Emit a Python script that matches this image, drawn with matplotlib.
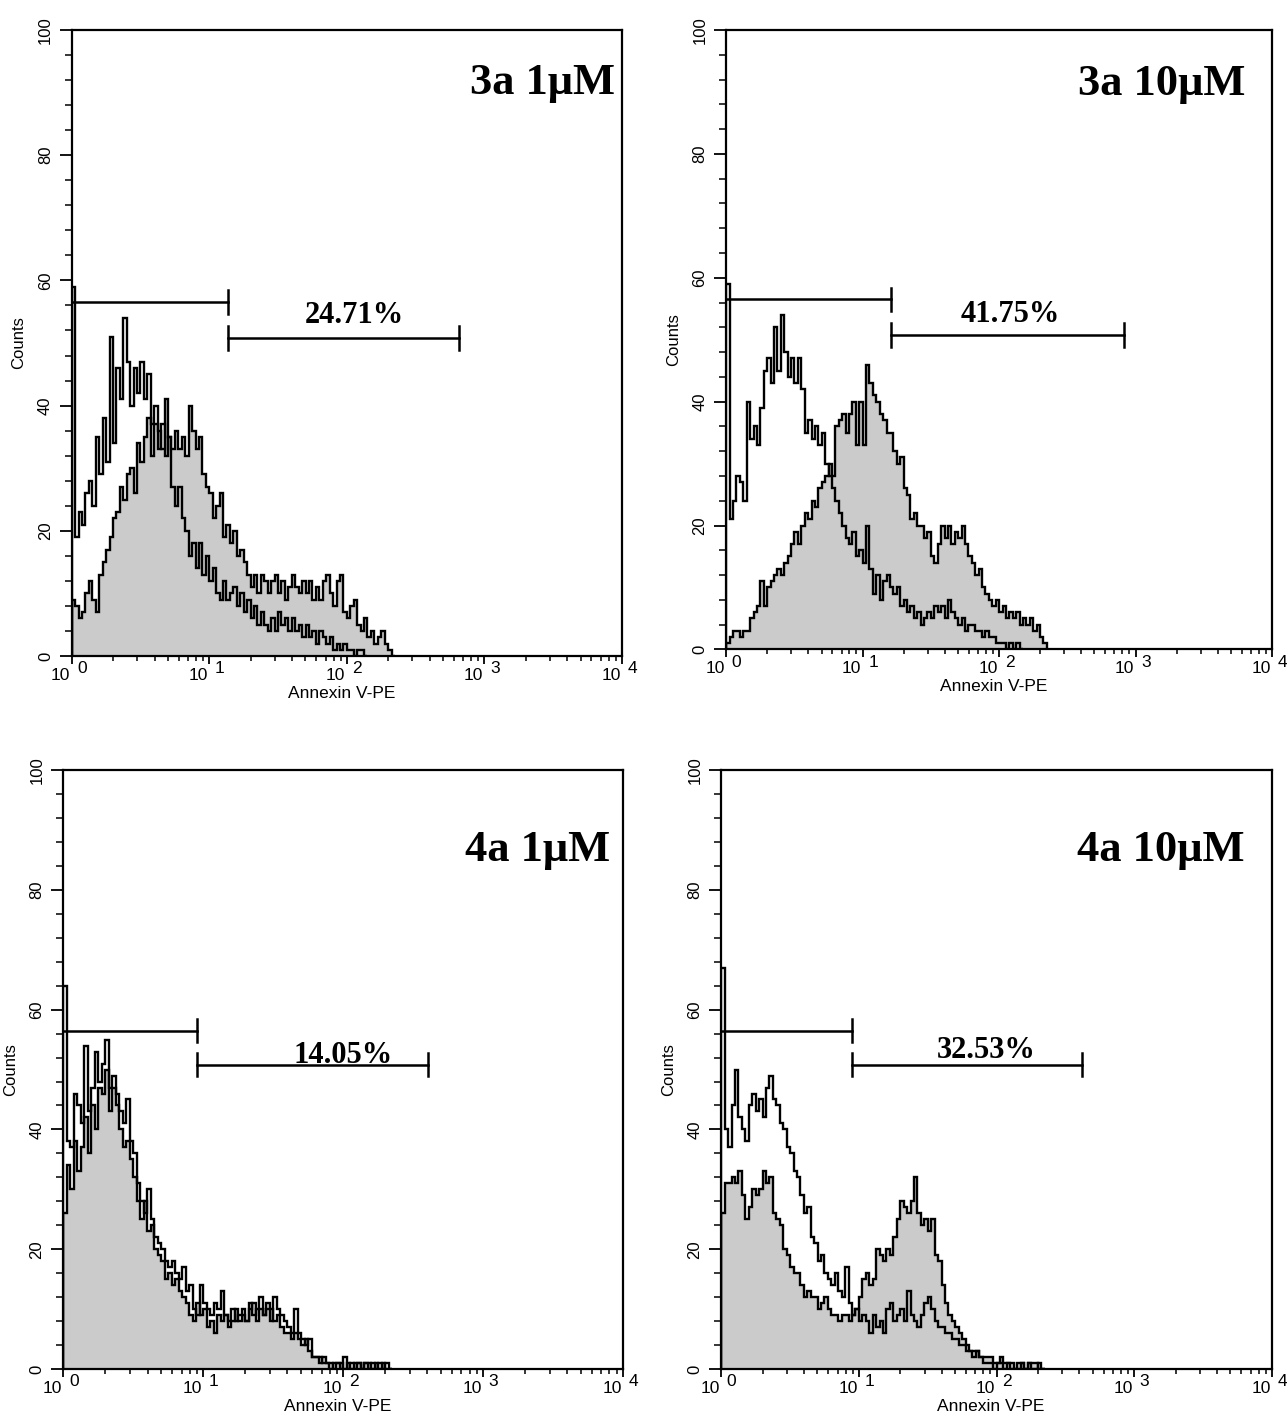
import numpy as np
import matplotlib.pyplot as plt
from matplotlib.ticker import MultipleLocator, LogLocator, NullFormatter

plt.rcParams['font.family'] = ['Liberation Sans', 'DejaVu Sans']

# channels per decade of the log amplifier (histogram bins)
CH_PER_DECADE = 40

panel_titles = ['3a 1\u03bcM', '3a 10\u03bcM', '4a 1\u03bcM', '4a 10\u03bcM']
percent_labels = ['24.71%', '41.75%', '14.05%', '32.53%']

# gate markers: (split, right end) in Annexin V-PE units
gate_split = [13.7, 16.0, 8.95, 8.9]
gate_end = [648, 824, 405, 415]
gate_low_y = 56.5
gate_high_y = 50.8

# counts per channel, control (open outline)
control_3a_1 = [59, 19, 23, 21, 26, 28, 24, 35, 29, 38, 31, 51, 34, 46, 41, 54, 47, 40, 46, 42,
                47, 41, 45, 37, 40, 33, 37, 32, 35, 27, 24, 27, 22, 20, 16, 18, 14, 18, 13, 16,
                12, 14, 10, 9, 12, 9, 10, 11, 8, 10, 7, 9, 6, 8, 5, 7, 5, 4, 6, 4,
                7, 5, 6, 4, 6, 4, 5, 3, 5, 3, 4, 2, 4, 3, 2, 3, 1, 2, 1, 2,
                1, 1, 0, 1, 1, 0]
control_3a_10 = [59, 21, 24, 28, 27, 24, 40, 34, 36, 33, 39, 45, 47, 43, 52, 45, 54, 48, 44, 47,
                 43, 47, 42, 35, 37, 34, 36, 33, 35, 30, 28, 26, 24, 22, 20, 18, 17, 19, 15, 16,
                 14, 20, 13, 9, 12, 8, 11, 12, 10, 9, 10, 7, 8, 6, 7, 5, 6, 4, 5, 6,
                 5, 7, 6, 7, 5, 8, 6, 5, 4, 5, 3, 4, 4, 3, 3, 2, 3, 2, 2, 1,
                 1, 1, 0, 1, 0, 1, 0]
control_4a_1 = [64, 38, 37, 46, 44, 41, 54, 43, 47, 53, 48, 51, 55, 47, 49, 46, 43, 41, 45, 38,
                36, 31, 28, 26, 30, 25, 22, 21, 20, 18, 17, 18, 16, 15, 17, 13, 14, 10, 9, 14,
                11, 10, 9, 11, 10, 13, 9, 8, 10, 8, 9, 10, 8, 11, 9, 10, 12, 9, 10, 8,
                12, 10, 9, 8, 7, 6, 10, 6, 5, 4, 5, 2, 2, 2, 1, 1, 0, 1, 1, 0,
                2, 0, 1, 0, 1, 0, 1, 0, 1, 0, 1, 0, 1, 0]
control_4a_10 = [67, 40, 37, 44, 50, 42, 40, 38, 44, 46, 43, 45, 42, 47, 49, 45, 44, 41, 40, 37,
                 36, 33, 32, 29, 26, 27, 22, 21, 18, 19, 16, 15, 14, 16, 13, 12, 17, 11, 9, 10,
                 8, 9, 8, 6, 9, 7, 8, 6, 10, 11, 8, 9, 10, 8, 13, 9, 8, 7, 9, 11,
                 12, 10, 8, 7, 7, 6, 6, 5, 5, 4, 4, 3, 3, 2, 3, 2, 1, 1, 1, 0,
                 1, 1, 0, 1, 0, 0, 0, 1, 0, 1, 0, 0, 1, 0]

# counts per channel, treated (grey filled)
treated_3a_1 = [9, 8, 6, 7, 10, 12, 9, 7, 13, 15, 17, 19, 22, 23, 27, 25, 29, 30, 26, 34,
                31, 35, 38, 32, 37, 36, 33, 41, 35, 33, 36, 33, 35, 32, 40, 36, 33, 35, 29, 27,
                26, 22, 24, 26, 19, 21, 18, 20, 16, 17, 15, 13, 11, 13, 10, 13, 12, 10, 12, 13,
                10, 12, 9, 11, 13, 11, 10, 12, 10, 12, 9, 11, 9, 12, 13, 10, 8, 12, 13, 7,
                6, 8, 9, 5, 4, 6, 3, 4, 2, 3, 4, 2, 1, 0]
treated_3a_10 = [1, 2, 3, 3, 2, 3, 3, 5, 6, 7, 11, 7, 10, 11, 12, 13, 12, 14, 15, 17,
                 19, 17, 20, 22, 21, 24, 23, 26, 27, 28, 30, 28, 36, 37, 38, 35, 38, 40, 33, 40,
                 33, 46, 43, 41, 40, 38, 37, 35, 35, 32, 30, 31, 26, 25, 21, 22, 20, 20, 18, 19,
                 15, 14, 17, 20, 18, 20, 17, 19, 18, 20, 17, 15, 14, 12, 13, 10, 9, 8, 7, 8,
                 6, 7, 5, 6, 5, 6, 4, 5, 4, 5, 3, 4, 2, 1]
treated_4a_1 = [26, 34, 30, 38, 33, 37, 42, 36, 44, 40, 47, 46, 50, 43, 47, 44, 40, 37, 38, 35,
                32, 28, 25, 28, 23, 24, 20, 19, 18, 15, 16, 14, 15, 13, 12, 11, 9, 8, 11, 9,
                10, 7, 8, 6, 9, 8, 9, 7, 8, 10, 8, 9, 8, 10, 11, 8, 10, 9, 11, 10,
                8, 9, 7, 6, 6, 5, 6, 5, 4, 5, 3, 2, 2, 1, 2, 1, 1, 0, 1, 1,
                0, 1, 0, 1, 1, 0, 1, 1, 0, 1, 0, 1, 0, 0]
treated_4a_10 = [26, 31, 31, 32, 31, 33, 29, 25, 27, 30, 29, 30, 33, 31, 32, 26, 25, 24, 20, 19,
                 17, 16, 16, 14, 12, 13, 12, 12, 10, 11, 12, 10, 9, 9, 8, 9, 9, 8, 9, 10,
                 12, 15, 16, 14, 15, 20, 19, 18, 20, 19, 22, 25, 28, 27, 26, 28, 32, 26, 24, 25,
                 23, 25, 19, 18, 14, 11, 9, 8, 7, 6, 5, 4, 3, 3, 3, 2, 2, 2, 2, 1,
                 1, 2, 1, 1, 1, 0, 1, 1, 0, 1, 1, 1, 0, 0]

controls = [control_3a_1, control_3a_10, control_4a_1, control_4a_10]
treated = [treated_3a_1, treated_3a_10, treated_4a_1, treated_4a_10]

# layout, figure fractions [left, bottom, width, height]
boxes = [[0.0557, 0.5380, 0.4276, 0.4409],
         [0.5643, 0.5427, 0.4240, 0.4361],
         [0.0492, 0.0359, 0.4349, 0.4218],
         [0.5604, 0.0359, 0.4279, 0.4218]]
title_pos = [(0.987, 0.898), (0.951, 0.895), (0.977, 0.848), (0.951, 0.848)]
pct_x = [114, 120, 100, 84]
pct_y = [53.2, 52.8, 51.1, 52.0]

fig = plt.figure(figsize=(12.87, 14.2), dpi=100)

for i in range(4):
    ax = fig.add_axes(boxes[i])
    ax.set_xscale('log')
    ax.set_xlim(1, 1e4)
    ax.set_ylim(0, 100)

    g = np.array(treated[i])
    c = np.array(controls[i])
    g_edges = 10 ** (np.arange(len(g) + 1) / CH_PER_DECADE)
    c_edges = 10 ** (np.arange(len(c) + 1) / CH_PER_DECADE)
    ax.stairs(g, g_edges, fill=True, color='#cbcbcb', lw=0)
    ax.stairs(g, g_edges, color='black', lw=1.7)
    ax.stairs(c, c_edges, color='black', lw=1.7)

    # marker bars
    ax.plot([1, gate_split[i]], [gate_low_y, gate_low_y], color='black', lw=1.8)
    ax.plot([gate_split[i], gate_split[i]], [gate_low_y - 1.9, gate_low_y + 1.9], color='black', lw=1.8)
    ax.plot([gate_split[i], gate_end[i]], [gate_high_y, gate_high_y], color='black', lw=1.8)
    for gx in (gate_split[i], gate_end[i]):
        ax.plot([gx, gx], [gate_high_y - 1.9, gate_high_y + 1.9], color='black', lw=1.8)

    ax.text(pct_x[i], pct_y[i], percent_labels[i], ha='center', va='baseline',
            fontsize=22, fontweight='bold', family='Liberation Serif')
    ax.text(title_pos[i][0], title_pos[i][1], panel_titles[i], transform=ax.transAxes,
            ha='right', va='baseline', fontsize=32, fontweight='bold', family='Liberation Serif')

    for sp in ax.spines.values():
        sp.set_linewidth(1.6)

    # y axis
    ax.yaxis.set_major_locator(MultipleLocator(20))
    ax.yaxis.set_minor_locator(MultipleLocator(4))
    ax.tick_params(axis='y', which='major', direction='out', length=8.5, width=1.3,
                   labelsize=12, pad=5, labelrotation=90)
    ax.tick_params(axis='y', which='minor', direction='out', length=5, width=1.1)
    for lab in ax.get_yticklabels():
        lab.set_family(['Liberation Sans Narrow', 'Liberation Sans'])
        lab.set_va('center')
    ax.annotate('Counts', xy=(0, 0.5), xycoords='axes fraction', xytext=(-38, 0),
                textcoords='offset points', rotation=90, ha='center', va='center',
                fontsize=12, family=['Liberation Sans Narrow', 'Liberation Sans'])

    # x axis, decade labels drawn as 10 + raised exponent
    ax.xaxis.set_major_locator(LogLocator(base=10, numticks=10))
    ax.xaxis.set_minor_locator(LogLocator(base=10, subs=np.arange(2, 10), numticks=20))
    ax.xaxis.set_major_formatter(NullFormatter())
    ax.xaxis.set_minor_formatter(NullFormatter())
    ax.tick_params(axis='x', which='major', direction='out', length=6, width=1.3)
    ax.tick_params(axis='x', which='minor', direction='out', length=3.8, width=1.1)
    for d in range(5):
        ax.annotate('10', xy=(10 ** d, 0), xycoords=('data', 'axes fraction'),
                    xytext=(-1, -17), textcoords='offset points', ha='right',
                    va='baseline', fontsize=12.5)
        ax.annotate(str(d), xy=(10 ** d, 0), xycoords=('data', 'axes fraction'),
                    xytext=(4, -12.5), textcoords='offset points', ha='left',
                    va='baseline', fontsize=12.5)
    ax.annotate('Annexin V-PE', xy=(0.5, 0), xycoords='axes fraction',
                xytext=(-4, -30), textcoords='offset points', ha='center',
                va='baseline', fontsize=12.5)

fig.savefig('out.png', dpi=100)
